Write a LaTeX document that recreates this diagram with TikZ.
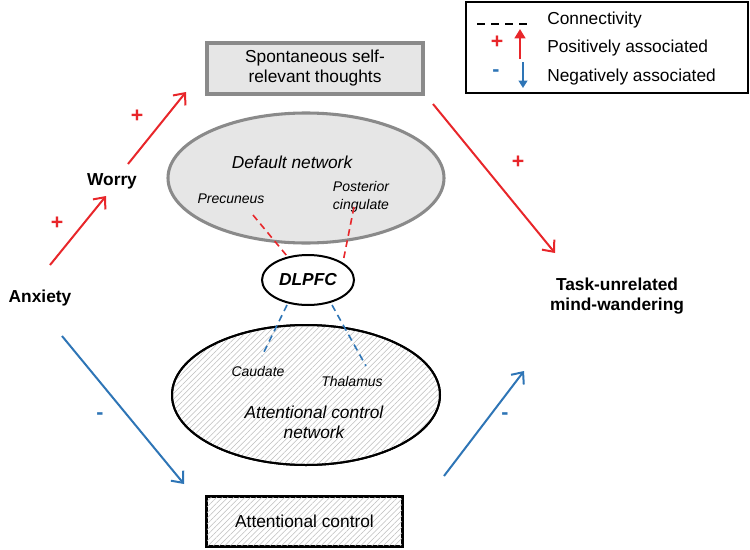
\documentclass[tikz,border=0pt]{standalone}
\usepackage{fontspec}
\setmainfont{Liberation Sans}
\usetikzlibrary{shapes.geometric,arrows.meta,patterns.meta}
\definecolor{myred}{HTML}{E8262A}
\definecolor{myblue}{HTML}{2E75B6}
\definecolor{boxgray}{HTML}{E6E6E6}
\definecolor{edgegray}{HTML}{8A8A8A}
\definecolor{hatchgray}{HTML}{BEBEBE}
\begin{document}
\begin{tikzpicture}[x=0.75pt,y=-0.75pt,
  every node/.style={font=\fontsize{13}{15}\selectfont, inner sep=0pt, align=center},
  smalltxt/.style={font=\fontsize{10.5}{13}\selectfont\itshape},
  boldtxt/.style={font=\fontsize{13}{15}\selectfont\bfseries},
  hatched/.style={pattern={Lines[angle=45,distance=3pt,line width=0.4pt]}, pattern color=hatchgray},
  redarrow/.style={draw=myred, line width=1.5pt, -{Straight Barb[length=7pt,width=12pt,line width=1.5pt]}},
  bluearrow/.style={draw=myblue, line width=1.5pt, -{Straight Barb[length=7pt,width=12pt,line width=1.5pt]}},
  reddash/.style={draw=myred, line width=1.2pt, dash pattern=on 5pt off 3.5pt},
  bluedash/.style={draw=myblue, line width=1.2pt, dash pattern=on 5pt off 3.5pt},
  plus/.style={text=myred, font=\fontsize{16}{16}\selectfont\bfseries},
  minus/.style={text=myblue, font=\fontsize{16}{16}\selectfont\bfseries},
]
\useasboundingbox (0,0) rectangle (750,550);

% Legend
\node[draw=black, line width=1.1pt, minimum width=211.5pt, minimum height=68.25pt] (legend) at (607,47.5) {};
\coordinate (ld1) at (477,24);
\coordinate (ld2) at (531,24);
\draw[line width=1.2pt, dash pattern=on 6pt off 4.5pt] (ld1) -- (ld2);
\node[anchor=west] (lconn) at (547,20) {Connectivity};
\node[anchor=west] (lpos) at (547,48) {Positively associated};
\node[anchor=west] (lneg) at (547,77) {Negatively associated};
\node[plus] (lplus) at (497,42) {+};
\node[minus] (lminus) at (496,73) {-};
\coordinate (lu1) at (520,59);
\coordinate (lu2) at (520,29);
\draw[myred, line width=2pt, -{Triangle[length=7pt,width=8pt]}] (lu1) -- (lu2);
\coordinate (lb1) at (523,62);
\coordinate (lb2) at (523,88);
\draw[myblue, line width=1.3pt, -{Triangle[length=5.5pt,width=6.5pt]}] (lb1) -- (lb2);

% Boxes
\node[draw=edgegray, fill=boxgray, line width=2.3pt, minimum width=162pt, minimum height=38.25pt] (spont) at (315,68.5) {Spontaneous self-\\relevant thoughts};
\node[draw=black, fill=white, line width=1.3pt, minimum width=146.25pt, minimum height=36.75pt] (acbox) at (304.5,521.5) {};
\fill[hatched] (acbox.south west) rectangle (acbox.north east);
\draw[line width=1.3pt] (acbox.south west) rectangle (acbox.north east);
\node (actext) at (acbox.center) {Attentional control};

% Ellipses
\node[ellipse, draw=edgegray, fill=boxgray, line width=2.3pt, minimum width=207pt, minimum height=97.5pt] (dn) at (306,178) {};
\node[ellipse, draw=black, fill=white, line width=1.5pt, minimum width=201pt, minimum height=105pt] (acn) at (306,395) {};
\fill[hatched] (306,395) ellipse [x radius=134, y radius=70];
\draw[line width=1.5pt] (306,395) ellipse [x radius=134, y radius=70];
\node[ellipse, draw=black, fill=white, line width=1.5pt, minimum width=69pt, minimum height=37.5pt] (dlpfc) at (308,280) {};
\node[font=\fontsize{13}{15}\selectfont\bfseries\itshape] (dltext) at (dlpfc.center) {DLPFC};

% Texts in ellipses
\node[font=\fontsize{13}{15}\selectfont\itshape] (dntext) at (292,162) {Default network};
\node[smalltxt] (prec) at (231,199) {Precuneus};
\node[smalltxt] (postc) at (361,197) {Posterior\\cingulate};
\node[smalltxt] (caud) at (258,371) {Caudate};
\node[smalltxt] (thal) at (352,381) {Thalamus};
\node[font=\fontsize{13}{15}\selectfont\itshape] (acntext) at (314,422) {Attentional control\\network};

% Connectivity dashes
\coordinate (pr1) at (253,215);
\coordinate (pr2) at (287,256);
\coordinate (pc1) at (354,207);
\coordinate (pc2) at (343,262);
\coordinate (ca1) at (287,305);
\coordinate (ca2) at (262,356);
\coordinate (th1) at (332,305);
\coordinate (th2) at (366,366);
\draw[reddash] (pr1) -- (pr2);
\draw[reddash] (pc1) -- (pc2);
\draw[bluedash] (ca1) -- (ca2);
\draw[bluedash] (th1) -- (th2);

% Outer nodes
\node[boldtxt] (anx) at (40,298) {Anxiety};
\node[boldtxt] (worry) at (112,181) {Worry};
\node[boldtxt] (task) at (617,296) {Task-unrelated\\mind-wandering};

% Arrows
\coordinate (a1) at (50,265);
\coordinate (a2) at (106,196);
\coordinate (w1) at (128,164);
\coordinate (w2) at (186,92);
\coordinate (s1) at (433,104);
\coordinate (s2) at (555,253);
\coordinate (b1) at (62,336);
\coordinate (b2) at (184,484);
\coordinate (c1) at (444,476);
\coordinate (c2) at (524,371);
\draw[redarrow] (a1) -- (a2);
\draw[redarrow] (w1) -- (w2);
\draw[redarrow] (s1) -- (s2);
\draw[bluearrow] (b1) -- (b2);
\draw[bluearrow] (c1) -- (c2);

\node[plus] (p1) at (57,223) {+};
\node[plus] (p2) at (137,116) {+};
\node[plus] (p3) at (518,162) {+};
\node[minus] (m1) at (100,416) {-};
\node[minus] (m2) at (505,416) {-};
\end{tikzpicture}
\end{document}
